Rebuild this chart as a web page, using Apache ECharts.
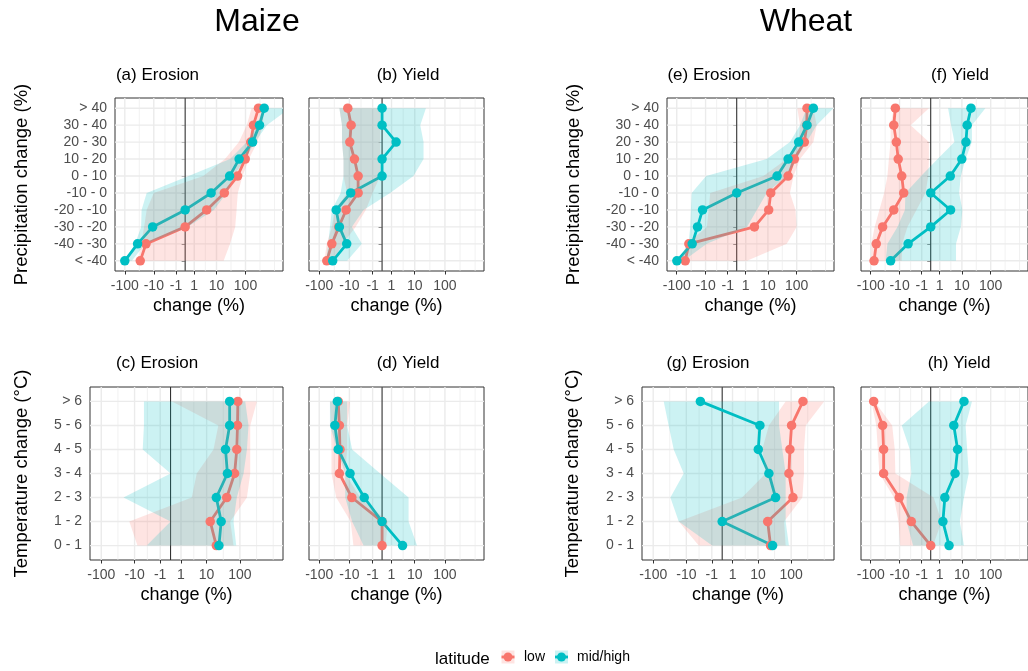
<!DOCTYPE html>
<html>
<head>
<meta charset="utf-8">
<script src="https://cdn.jsdelivr.net/npm/echarts@6/dist/echarts.min.js"></script>
<style>
html, body { margin: 0; padding: 0; background: #fff; }
#chart { width: 1028px; height: 671px; }
</style>
</head>
<body>
<div id="chart"></div>
<script>
// categories (bottom -> top)
var precipCats = ['< -40', '-40 - -30', '-30 - -20', '-20 - -10', '-10 - 0', '0 - 10', '10 - 20', '20 - 30', '30 - 40', '> 40'];
var tempCats = ['0 - 1', '1 - 2', '2 - 3', '3 - 4', '4 - 5', '5 - 6', '> 6'];

// x axis breaks (% change, pseudo-log scale)
var xBreaks = [-100, -10, -1, 1, 10, 100];
var xLabels = ['-100', '-10', '-1', '1', '10', '100'];

// (a) maize erosion vs precipitation
var aLow = [-30, -19, 0, 4.2, 19, 54, 98, 150, 185, 272];
var aLowMin = [-33, -28, -22, -18, -10, 3, 20, 60, 110, 160];
var aLowMax = [18, 30, 45, 50, 55, 80, 130, 250, 380, 400];
var aHigh = [-100, -37, -11, 0, 6.3, 29, 61, 173, 294, 421];
var aHighMin = [-100, -45, -28, -27, -18, 0.3, 30, 111, 250, 380];
var aHighMax = [-58, -20, 0.2, 8, 23, 40, 98, 211, 517, 3000];

// (b) maize yield vs precipitation
var bLow = [-57, -39, -23, -13, -4.8, -4.8, -6.6, -9.7, -8.7, -11.4];
var bLowMin = [-68, -57, -39, -31, -12, -16, -16, -18, -18, -22];
var bLowMax = [-35, -17, -6, -2.3, -1, -0.15, -0.15, -0.15, -0.15, -0.15];
var bHigh = [-36.5, -12.4, -22, -28, -9, 0, 0, 1.8, 0, 0];
var bHighMin = [-60, -51, -45, -39, -20, -16, -16, -18, -18, -22];
var bHighMax = [-12, -3.4, -8.2, -2.9, 0.8, 9, 20, 20, 15.5, 24];

// (c) maize erosion vs temperature
var cLow = [20, 13, 41, 70, 81, 85, 87];
var cLowMin = [-8.1, -14.6, 3.1, 4.7, 16.4, 23, 0.1];
var cLowMax = [65, 52, 160, 200, 200, 200, 312];
var cHigh = [24, 28, 20, 43, 37.7, 50, 50];
var cHighMin = [-3.9, 0, -22, 0, -5.4, -4.9, -4.9];
var cHighMax = [78, 65, 81, 128, 160, 178, 143];

// (d) maize yield vs temperature
var dLow = [0, 0, -8.2, -22, -21, -22, -24];
var dLowMin = [-7.2, -9, -28, -40, -40, -42, -45];
var dLowMax = [0.3, 0.5, -4, -14, -12, -12, -9.5];
var dHigh = [3.5, 0, -2.7, -9.5, -24, -31, -25.7];
var dHighMin = [-2.9, -8, -14, -14, -26, -45, -45];
var dHighMax = [12, 6, 6, -0.15, -8, -12, -12];

// (e) wheat erosion vs precipitation
var eLow = [-51.6, -38.8, 2.9, 10.7, 12.7, 51, 83, 181, 218, 222];
var eLowMin = [-76, -45, -9, -7.7, -6.7, 6.8, 46, 114, 129, 105];
var eLowMax = [1.2, 46, 99, 91, 59, 78, 129, 362, 468, 362];
var eHigh = [-99, -29.8, -19.4, -12.9, 0, 21.3, 51, 116, 222, 362];
var eHighMin = [-99, -40, -34.8, -33, -31, -9.5, 9, 59, 129, 216];
var eHighMax = [-59, -9, 1.2, 3.7, 9, 46, 99, 216, 468, 1690];

// (f) wheat yield vs precipitation
var fLow = [-77.5, -65, -39.5, -16.2, -7, -8.3, -11.2, -13.1, -16.2, -14.2];
var fLowMin = [-95, -95, -74, -51, -35, -27, -24, -21, -21, -16];
var fLowMax = [-8.3, -8, -5, -2, -0.5, -0.2, -0.15, -0.15, -3.7, -0.15];
var fHigh = [-20.9, -4.7, 0, 3.6, 0, 3.5, 9.9, 14, 15.5, 21.1];
var fHighMin = [-31, -27, -12, -6.3, -6, -1.1, 0.7, 5.2, 3.8, 2.8];
var fHighMax = [6, 6, 9.1, 10.4, 7.9, 9.1, 13.6, 22.8, 22.8, 66];

// (g) wheat erosion vs temperature
var gLow = [24.5, 20, 113, 86, 92, 103, 222];
var gLowMin = [-3.8, -17.3, 2.8, 17.3, 13.6, 21.8, 69];
var gLowMax = [69, 62, 213, 238, 238, 267, 915];
var gHigh = [28.2, 0, 34.7, 21.8, 10.2, 11.5, -3.3];
var gHighMin = [-0.96, -17.3, -31, -12.1, -24.6, -34.9, -49];
var gHighMax = [86, 69, 69, 69, 55, 44, 44];

// (h) wheat yield vs temperature
var hLow = [0, -3.45, -10.3, -36.6, -36.6, -39.5, -79.5];
var hLowMin = [-9.5, -10.9, -16, -51, -57.5, -65, -95];
var hLowMax = [0.2, 1.3, 0.25, -14.2, -14.9, -18.4, -74];
var hHigh = [3.1, 1.55, 1.96, 5.5, 6.9, 4.9, 11.9];
var hHighMin = [-2.9, -5.4, -5.4, -3.45, -4, -8.3, -0.15];
var hHighMax = [11.9, 8.4, 11.9, 17.6, 15.5, 13.6, 22.9];

var lowColor = '#F8766D';
var highColor = '#00BFC4';
var font = 'Liberation Sans, Arial, sans-serif';
var xMin = -2.33, xMax = 3.25;

// pseudo-log transform: sign(x) * log10(1 + |x|)
function tr(v) {
    return (v < 0 ? -1 : 1) * Math.log10(1 + Math.abs(v));
}

var majorX = xBreaks.map(tr);
// minor breaks like ggplot: midpoints, plus one step past the last break
var ext = majorX.slice();
ext.push(majorX[majorX.length - 1] + (majorX[1] - majorX[0]));
var minorX = [ext[ext.length - 1]];
for (var k = 0; k < ext.length - 1; k++) minorX.push((ext[k] + ext[k + 1]) / 2);

var panels = [
    { title: '(a) Erosion', tx: 157.5, ty: 75, cats: precipCats, low: [aLow, aLowMin, aLowMax], high: [aHigh, aHighMin, aHighMax],
      grid: { left: 115, top: 98, width: 168, height: 173 }, yName: 'Precipitation change (%)', nameGap: 84 },
    { title: '(b) Yield', tx: 408, ty: 75, cats: precipCats, low: [bLow, bLowMin, bLowMax], high: [bHigh, bHighMin, bHighMax],
      grid: { left: 309, top: 98, width: 175, height: 173 } },
    { title: '(c) Erosion', tx: 157, ty: 363, cats: tempCats, low: [cLow, cLowMin, cLowMax], high: [cHigh, cHighMin, cHighMax],
      grid: { left: 90, top: 387, width: 193, height: 173 }, yName: 'Temperature change (°C)', nameGap: 59 },
    { title: '(d) Yield', tx: 408, ty: 363, cats: tempCats, low: [dLow, dLowMin, dLowMax], high: [dHigh, dHighMin, dHighMax],
      grid: { left: 309, top: 387, width: 175, height: 173 } },
    { title: '(e) Erosion', tx: 709, ty: 75, cats: precipCats, low: [eLow, eLowMin, eLowMax], high: [eHigh, eHighMin, eHighMax],
      grid: { left: 667, top: 98, width: 167, height: 173 }, yName: 'Precipitation change (%)', nameGap: 84 },
    { title: '(f) Yield', tx: 960, ty: 75, cats: precipCats, low: [fLow, fLowMin, fLowMax], high: [fHigh, fHighMin, fHighMax],
      grid: { left: 861, top: 98, width: 175, height: 173 } },
    { title: '(g) Erosion', tx: 708, ty: 363, cats: tempCats, low: [gLow, gLowMin, gLowMax], high: [gHigh, gHighMin, gHighMax],
      grid: { left: 642, top: 387, width: 192, height: 173 }, yName: 'Temperature change (°C)', nameGap: 60 },
    { title: '(h) Yield', tx: 959, ty: 363, cats: tempCats, low: [hLow, hLowMin, hLowMax], high: [hHigh, hHighMin, hHighMax],
      grid: { left: 861, top: 387, width: 175, height: 173 } }
];

var grids = [], xAxes = [], yAxes = [], series = [];
var graphics = [
    { type: 'text', x: 257, y: 22, style: { text: 'Maize', font: '32px ' + font, fill: '#000', align: 'center', verticalAlign: 'middle' } },
    { type: 'text', x: 806, y: 22, style: { text: 'Wheat', font: '32px ' + font, fill: '#000', align: 'center', verticalAlign: 'middle' } }
];

function gridLines(idx, n) {
    return {
        type: 'custom', xAxisIndex: idx, yAxisIndex: idx, z: 1, silent: true, clip: true,
        data: [[0, 1]],
        renderItem: function (params, api) {
            var ch = [];
            function seg(p1, p2, color, w) {
                ch.push({ type: 'line', shape: { x1: p1[0], y1: p1[1], x2: p2[0], y2: p2[1] }, style: { stroke: color, lineWidth: w } });
            }
            minorX.forEach(function (x) { seg(api.coord([x, 0.4]), api.coord([x, n + 0.6]), '#EBEBEB', 0.7); });
            majorX.forEach(function (x) { seg(api.coord([x, 0.4]), api.coord([x, n + 0.6]), '#EBEBEB', 1.4); });
            for (var i = 1; i <= n; i++) seg(api.coord([xMin, i]), api.coord([xMax, i]), '#EBEBEB', 1.4);
            // zero line
            seg(api.coord([0, 0.4]), api.coord([0, n + 0.6]), '#222', 1);
            return { type: 'group', children: ch };
        }
    };
}

function ribbon(idx, lo, hi, color) {
    return {
        type: 'custom', xAxisIndex: idx, yAxisIndex: idx, z: 4, silent: true, clip: true,
        data: lo.map(function (v, i) { return [tr(v), i + 1]; }),
        renderItem: function (params, api) {
            if (params.dataIndex !== 0) return null;
            var pts = [];
            for (var i = 0; i < lo.length; i++) pts.push(api.coord([tr(lo[i]), i + 1]));
            for (var j = hi.length - 1; j >= 0; j--) pts.push(api.coord([tr(hi[j]), j + 1]));
            return { type: 'polygon', shape: { points: pts }, style: { fill: color, opacity: 0.2 } };
        }
    };
}

panels.forEach(function (p, idx) {
    var n = p.cats.length;
    var yTicks = p.cats.map(function (c, i) { return i + 1; });
    grids.push({ left: p.grid.left, top: p.grid.top, width: p.grid.width, height: p.grid.height,
        show: true, borderColor: '#333333', borderWidth: 1, backgroundColor: '#fff' });
    xAxes.push({
        type: 'value', gridIndex: idx, min: xMin, max: xMax,
        name: 'change (%)', nameLocation: 'middle', nameGap: 26,
        nameTextStyle: { fontSize: 18, color: '#000', fontFamily: font },
        axisLine: { show: false },
        axisTick: { show: true, length: 3.5, customValues: majorX, lineStyle: { color: '#333', width: 1 } },
        axisLabel: { customValues: majorX, margin: 8, fontSize: 14, color: '#4D4D4D', fontFamily: font,
            formatter: function (v) {
                for (var k = 0; k < majorX.length; k++) if (Math.abs(majorX[k] - v) < 1e-6) return xLabels[k];
                return '';
            } },
        splitLine: { show: false }
    });
    yAxes.push({
        type: 'value', gridIndex: idx, min: 0.4, max: n + 0.6,
        name: p.yName || '', nameLocation: 'middle', nameGap: p.nameGap || 0, nameRotate: 90,
        nameTextStyle: { fontSize: 18.5, color: '#000', fontFamily: font },
        axisLine: { show: false },
        axisTick: { show: true, length: 3.5, customValues: yTicks, lineStyle: { color: '#333', width: 1 } },
        axisLabel: { show: !!p.yName, customValues: yTicks, margin: 8, fontSize: 14, color: '#4D4D4D', fontFamily: font,
            formatter: function (v) { return p.cats[Math.round(v) - 1]; } },
        splitLine: { show: false }
    });

    series.push(gridLines(idx, n));
    [[p.low, lowColor, 'low'], [p.high, highColor, 'mid/high']].forEach(function (g) {
        var vals = g[0][0];
        series.push({
            type: 'line', name: g[2], xAxisIndex: idx, yAxisIndex: idx, z: 3, silent: true,
            showSymbol: false, symbol: 'none',
            lineStyle: { color: g[1], width: 2.8 },
            data: vals.map(function (v, i) { return [tr(v), i + 1]; })
        });
    });
    series.push(ribbon(idx, p.low[1], p.low[2], lowColor));
    series.push(ribbon(idx, p.high[1], p.high[2], highColor));
    [[p.low, lowColor, 'low'], [p.high, highColor, 'mid/high']].forEach(function (g) {
        var vals = g[0][0];
        series.push({
            type: 'scatter', name: g[2], xAxisIndex: idx, yAxisIndex: idx, z: 5, silent: true,
            symbol: 'circle', symbolSize: 9.5, itemStyle: { color: g[1], opacity: 1 },
            data: vals.map(function (v, i) { return [tr(v), i + 1]; })
        });
    });

    graphics.push({ type: 'text', x: p.tx, y: p.ty,
        style: { text: p.title, font: '17px ' + font, fill: '#000', align: 'center', verticalAlign: 'middle' } });
});

// legend
graphics.push({ type: 'text', x: 435, y: 659, style: { text: 'latitude', font: '17px ' + font, fill: '#000', verticalAlign: 'middle' } });
[[508, lowColor, 'low', 524], [561.5, highColor, 'mid/high', 577]].forEach(function (k) {
    graphics.push({ type: 'rect', shape: { x: k[0] - 6.5, y: 650.5, width: 13, height: 13 }, style: { fill: k[1], opacity: 0.2 } });
    graphics.push({ type: 'line', shape: { x1: k[0] - 6.5, y1: 657, x2: k[0] + 6.5, y2: 657 }, style: { stroke: k[1], lineWidth: 2.8 } });
    graphics.push({ type: 'circle', shape: { cx: k[0], cy: 657, r: 4.5 }, style: { fill: k[1] } });
    graphics.push({ type: 'text', x: k[3], y: 657.5, style: { text: k[2], font: '14px ' + font, fill: '#000', verticalAlign: 'middle' } });
});

var myChart = echarts.init(document.getElementById('chart'), null, { renderer: 'canvas' });
myChart.setOption({
    animation: false,
    backgroundColor: '#fff',
    textStyle: { fontFamily: font },
    grid: grids,
    xAxis: xAxes,
    yAxis: yAxes,
    series: series,
    graphic: { elements: graphics }
});
</script>
</body>
</html>
